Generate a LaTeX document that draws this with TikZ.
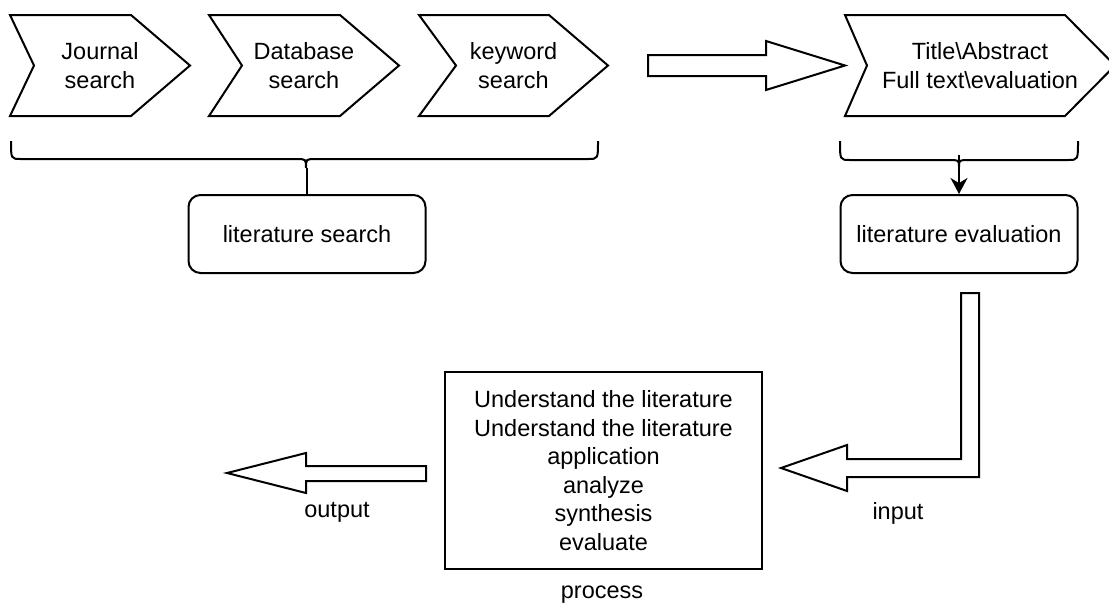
\documentclass[tikz,border=0pt]{standalone}
\usepackage{fontspec}
\setmainfont{Liberation Sans}
\usetikzlibrary{positioning,arrows.meta}

\tikzset{
  txt/.style={font=\fontsize{23.5}{28.5}\selectfont, align=center, inner sep=0pt},
  chev/.style={txt, minimum height=99pt},
  rbox/.style={txt, draw, rounded corners=12pt, minimum width=237pt, minimum height=78pt},
  fat/.style={fill=white, line join=miter},
}

\begin{document}
\begin{tikzpicture}[x=1pt,y=-1pt,line width=2pt]
  \useasboundingbox (0,0) rectangle (1109,606);

  % search steps and the evaluation step
  \node[chev, minimum width=178pt] (journal) at (100,65.5) {Journal\\search};
  \node[chev, minimum width=188pt] (database) [right=19pt of journal] {Database\\search};
  \node[chev, minimum width=187pt] (keyword) [right=20pt of database] {keyword\\search};
  \node[chev, minimum width=268pt] (title) [right=237pt of keyword] {Title\textbackslash Abstract\\Full text\textbackslash evaluation};

  % chevron outlines: notch depth / tip depth
  \foreach \n/\nd/\tp in {journal/24/59, database/33/59, keyword/37/59, title/22/50}
    \draw (\n.north west) -- ([xshift=-\tp]\n.north east) -- (\n.east)
      -- ([xshift=-\tp]\n.south east) -- (\n.south west) -- ([xshift=\nd]\n.west) -- cycle;

  % big arrow between the two groups
  \draw[fat] (title.west) -- ++(-79,-24.5) -- ++(0,14) -- ++(-118,0) -- ++(0,21)
    -- ++(118,0) -- ++(0,14) -- cycle;

  % braces
  \draw (11,141) .. controls (11,159) .. (21,159) -- (296,159) .. controls (306,159) .. (306,168)
    .. controls (306,159) .. (316,159) -- (588,159) .. controls (598,159) .. (598,141);
  \draw (840,141) .. controls (840,160) .. (850,160) -- (949,160) .. controls (959,160) .. (959,167)
    .. controls (959,160) .. (969,160) -- (1068,160) .. controls (1078,160) .. (1078,141);

  \coordinate (searchcusp) at (307,168);
  \coordinate (evalcusp) at (959,169);
  \coordinate (evaltop) at (959,155);

  \node[rbox, below=26pt of searchcusp] (litsearch) {literature search};
  \node[rbox, below=25pt of evalcusp] (liteval) {literature evaluation};

  \draw (searchcusp) -- (litsearch);
  \draw[-{Stealth[length=16pt,width=17pt,inset=5pt]}] (evaltop) -- (liteval);

  % process box
  \node[txt, draw, minimum width=317pt, minimum height=197pt] (process) at (603.5,470.5)
    {Understand the literature\\Understand the literature\\application\\analyze\\synthesis\\evaluate};

  % input / output arrows
  \coordinate (inputtip) at (781,468);
  \coordinate (outputtip) at (227,473);
  \draw[fat] (inputtip) -- ++(66,-23) -- ++(0,14) -- ++(114,0) -- ++(0,-166) -- ++(18,0)
    -- ++(0,184) -- ++(-132,0) -- ++(0,14) -- cycle;
  \draw[fat] (outputtip) -- ++(79,-20) -- ++(0,13) -- ++(120,0) -- ++(0,15) -- ++(-120,0)
    -- ++(0,12) -- cycle;

  \node[txt] (inputlbl) at (898,513) {input};
  \node[txt] (outputlbl) at (337,512) {output};
  \node[txt] (processlbl) at (602,595) {process};
\end{tikzpicture}
\end{document}
